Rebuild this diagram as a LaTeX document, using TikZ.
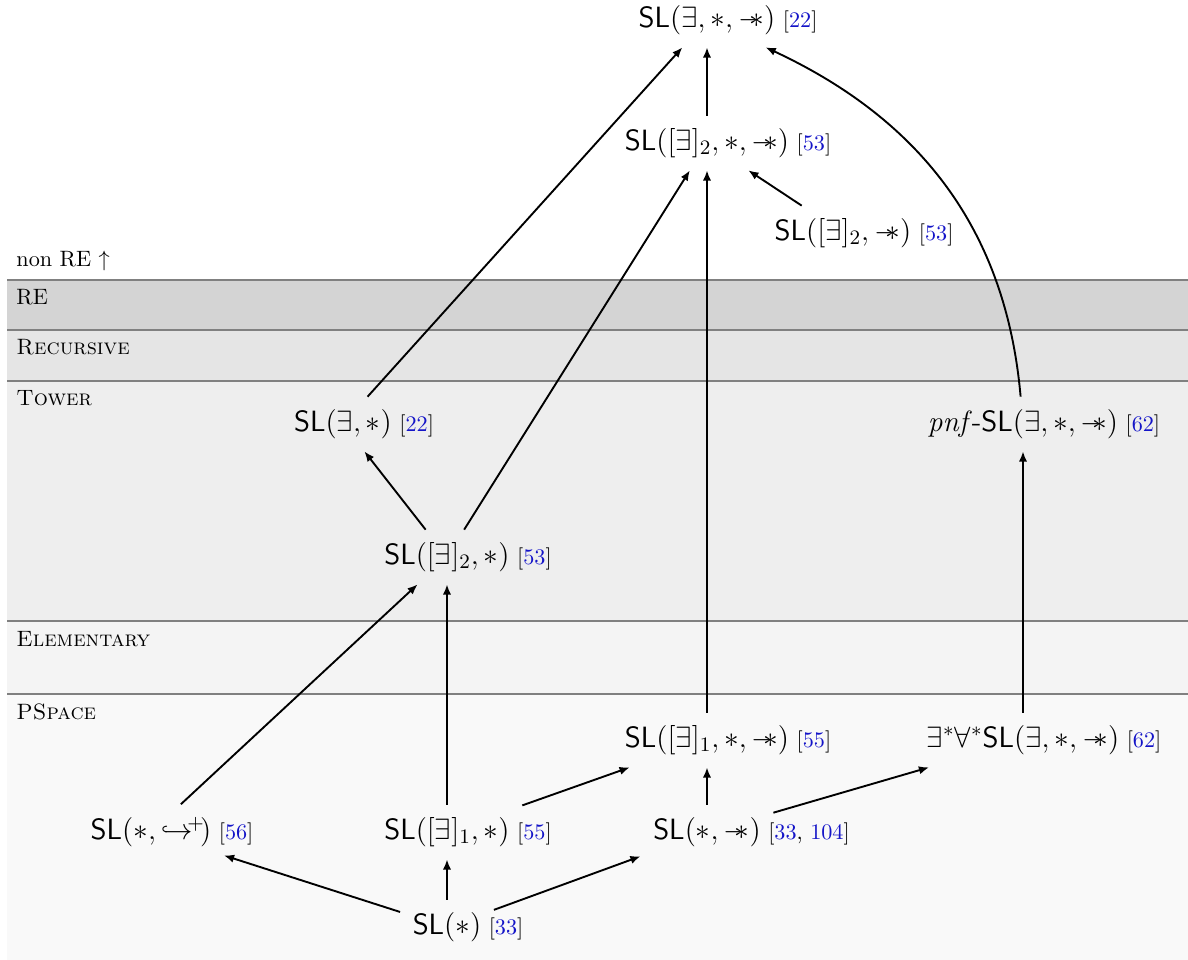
\RequirePackage{fix-cm}
\documentclass[tikz,border=0pt]{standalone}
\usetikzlibrary{arrows.meta}
\definecolor{citeblue}{RGB}{20,20,200}
\newcommand{\wnd}{\mathbin{-\mkern-7mu\ast}}
\newcommand{\sptr}{\mathrel{\hookrightarrow^{\mkern-5mu+}\mkern-3mu}}
\newcommand{\cit}[1]{[\textcolor{citeblue}{#1}]}
\tikzset{
  sl/.style={font=\fontsize{13.2}{16}\selectfont, inner sep=5.5pt},
  ct/.style={anchor=base west, inner sep=0pt},
  edge/.style={-{Latex[length=4.6pt,width=3.7pt]}, line width=0.85pt},
  lbl/.style={anchor=base west, inner sep=0pt},
  bandline/.style={draw=black!50, line width=0.5pt}
}
\begin{document}
\begin{tikzpicture}[x=0.45pt,y=-0.45pt]
\useasboundingbox (0,0) rectangle (1188,960);
% bands
\fill[black!17] (7,280) rectangle (1188,330);
\fill[black!10] (7,330) rectangle (1188,381);
\fill[black!6.5] (7,381) rectangle (1188,621);
\fill[black!4.5] (7,621) rectangle (1188,694);
\fill[black!2.5] (7,694) rectangle (1188,960);
\foreach \yy in {280,330,381,621,694} \draw[bandline] (7,\yy) -- (1188,\yy);
% band labels
\node[lbl] (lnre) at (16,267) {non RE $\uparrow$};
\node[lbl] (lre) at (16,305) {RE};
\node[lbl] (lrec) at (16,355) {\textsc{Recursive}};
\node[lbl] (ltow) at (16,406) {\textsc{Tower}};
\node[lbl] (lele) at (16,646) {\textsc{Elementary}};
\node[lbl] (lps) at (16,719) {\textsc{PSpace}};
% nodes
\node[sl] (T) at (707,20) {$\mathsf{SL}(\exists,\ast,\wnd)$};
\node[ct] (Tc) at ([xshift=-2.5pt]T.base east) {\cit{22}};
\node[sl] (A) at (707,143) {$\mathsf{SL}([\exists]_2,\ast,\wnd)$};
\node[ct] (Ac) at ([xshift=-2.5pt]A.base east) {\cit{53}};
\node[sl] (B) at (843,233) {$\mathsf{SL}([\exists]_2,\wnd)$};
\node[ct] (Bc) at ([xshift=-2.5pt]B.base east) {\cit{53}};
\node[sl] (C) at (343,424) {$\mathsf{SL}(\exists,\ast)$};
\node[ct] (Cc) at ([xshift=-2.5pt]C.base east) {\cit{22}};
\node[sl] (D) at (1023,424) {\textit{pnf}-$\mathsf{SL}(\exists,\ast,\wnd)$};
\node[ct] (Dc) at ([xshift=-2.5pt]D.base east) {\cit{62}};
\node[sl] (E) at (447,557) {$\mathsf{SL}([\exists]_2,\ast)$};
\node[ct] (Ec) at ([xshift=-2.5pt]E.base east) {\cit{53}};
\node[sl] (F) at (707,740) {$\mathsf{SL}([\exists]_1,\ast,\wnd)$};
\node[ct] (Fc) at ([xshift=-2.5pt]F.base east) {\cit{55}};
\node[sl] (G) at (1023,740) {$\exists^*\forall^*\mathsf{SL}(\exists,\ast,\wnd)$};
\node[ct] (Gc) at ([xshift=-2.5pt]G.base east) {\cit{62}};
\node[sl] (H) at (151,832) {$\mathsf{SL}(\ast,\sptr)$};
\node[ct] (Hc) at ([xshift=-2.5pt]H.base east) {\cit{56}};
\node[sl] (I) at (447,832) {$\mathsf{SL}([\exists]_1,\ast)$};
\node[ct] (Ic) at ([xshift=-2.5pt]I.base east) {\cit{55}};
\node[sl] (J) at (707,832) {$\mathsf{SL}(\ast,\wnd)$};
\node[ct] (Jc) at ([xshift=-2.5pt]J.base east) {[\textcolor{citeblue}{33}, \textcolor{citeblue}{104}]};
\node[sl] (K) at (447,927) {$\mathsf{SL}(\ast)$};
\node[ct] (Kc) at ([xshift=-2.5pt]K.base east) {\cit{33}};
% edges
\draw[edge] (K) -- (H);
\draw[edge] (K) -- (I);
\draw[edge] (K) -- (J);
\draw[edge] (H) -- (E);
\draw[edge] (I) -- (E);
\draw[edge] (I) -- (F);
\draw[edge] (J) -- (F);
\draw[edge] (J) -- (G);
\draw[edge] (F) -- (A);
\draw[edge] (G) -- (D);
\draw[edge] (E) -- (C);
\draw[edge] (E) -- (A);
\draw[edge] (C) -- (T);
\draw[edge] (B) -- (A);
\draw[edge] (A) -- (T);
\draw[edge] (D) to[out=95,in=-25] (T);
\end{tikzpicture}
\end{document}
